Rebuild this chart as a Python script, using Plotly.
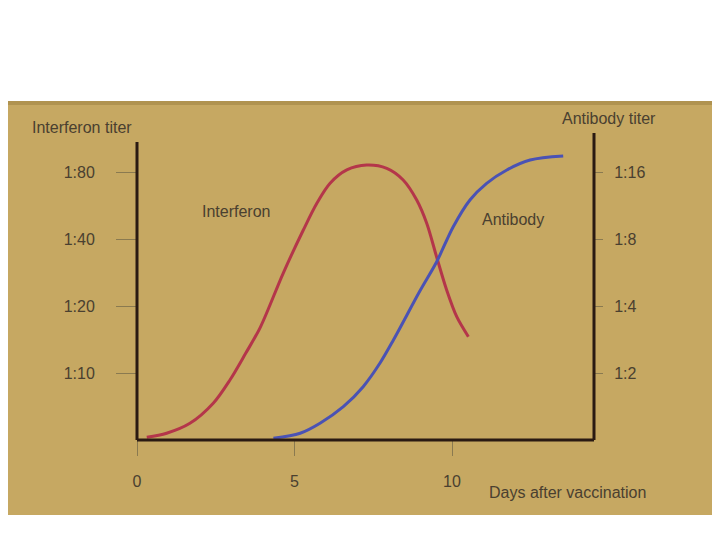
import math
import plotly.graph_objects as go

# ---- data ----
interferon_days = [0.31, 0.94, 1.68, 2.42, 2.95, 3.45, 3.91, 4.64, 5.28, 5.71, 6.13, 6.66,
                   7.29, 7.93, 8.45, 8.88, 9.20, 9.51, 9.83, 10.15, 10.52]
interferon_titer = [5.14, 5.36, 5.94, 7.31, 9.30, 12.26, 16.0, 28.05, 43.9, 57.9, 71.2, 81.7,
                    86.0, 83.1, 73.7, 59.9, 47.0, 33.3, 23.6, 17.9, 14.56]

antibody_days = [4.33, 5.18, 5.81, 6.55, 7.18, 7.71, 8.14, 8.98, 9.51, 10.04, 10.57, 11.10,
                 11.74, 12.48, 13.53]
antibody_titer = [1.018, 1.072, 1.189, 1.411, 1.736, 2.211, 2.814, 4.67, 6.31, 9.087, 11.98,
                  14.23, 16.34, 18.11, 18.88]

x_ticks = [0, 5, 10]
x_tick_labels = ["0", "5", "10"]
left_ticks = [10, 20, 40, 80]
left_tick_labels = ["1:10", "1:20", "1:40", "1:80"]
right_ticks = [2, 4, 8, 16]
right_tick_labels = ["1:2", "1:4", "1:8", "1:16"]

# ---- geometry ----
W, H = 720, 540
OFF = 8                      # page body margin of the html page
REF_L, REF_R, REF_T, REF_B = 137, 594, 137, 440   # plot area as it should appear
PW, PH = REF_R - REF_L, REF_B - REF_T
L, T = REF_L - OFF, REF_T - OFF
R, B = W - L - PW, H - T - PH
doublings = PH / 67.0

def px_x(p):
    return (p - REF_L) / PW

def px_y(p):
    return (REF_B - p) / PH

BG = "#c6a862"
TXT = "#4a4030"
AX = "#2a1a12"
TICK = "#8a7a50"
FONT = "Liberation Sans, Arial, sans-serif"

fig = go.Figure()
fig.add_trace(go.Scatter(x=interferon_days, y=interferon_titer, mode="lines",
                         line=dict(color="#b4364a", width=3, shape="spline", smoothing=0.9),
                         yaxis="y", hoverinfo="skip", showlegend=False))
fig.add_trace(go.Scatter(x=antibody_days, y=antibody_titer, mode="lines",
                         line=dict(color="#4a52b4", width=3, shape="spline", smoothing=0.9),
                         yaxis="y2", hoverinfo="skip", showlegend=False))

shapes = [
    # photo background
    dict(type="rect", xref="paper", yref="paper", x0=px_x(-10), x1=px_x(712), y0=px_y(515), y1=px_y(101),
         fillcolor=BG, line=dict(width=0), layer="below"),
    dict(type="rect", xref="paper", yref="paper", x0=px_x(-10), x1=px_x(712), y0=px_y(105), y1=px_y(101),
         fillcolor="#b09350", line=dict(width=0), layer="below"),
    dict(type="rect", xref="paper", yref="paper", x0=px_x(712), x1=px_x(730), y0=px_y(515), y1=px_y(101),
         fillcolor="#bcaea6", line=dict(width=0), layer="below"),
    # axis lines
    dict(type="line", xref="paper", yref="paper", x0=0, x1=0, y0=0, y1=px_y(142),
         line=dict(color=AX, width=3)),
    dict(type="line", xref="paper", yref="paper", x0=1, x1=1, y0=0, y1=px_y(133),
         line=dict(color=AX, width=3)),
    dict(type="line", xref="paper", yref="paper", x0=0, x1=1, y0=0, y1=0,
         line=dict(color=AX, width=3)),
]

annotations = [
    dict(text="Interferon titer", x=px_x(30), y=px_y(127), xanchor="left", yanchor="middle"),
    dict(text="Antibody titer", x=px_x(560), y=px_y(118), xanchor="left", yanchor="middle"),
    dict(text="Days after vaccination", x=px_x(487), y=px_y(492), xanchor="left", yanchor="middle"),
    dict(text="Interferon", x=px_x(236), y=px_y(211), xanchor="center", yanchor="middle"),
    dict(text="Antibody", x=px_x(513), y=px_y(219), xanchor="center", yanchor="middle"),
]
for a in annotations:
    a.update(xref="paper", yref="paper", showarrow=False, font=dict(family=FONT, size=16, color=TXT))

fig.update_layout(
    width=W, height=H,
    margin=dict(l=L, r=R, t=T, b=B, pad=0),
    paper_bgcolor="white", plot_bgcolor="rgba(0,0,0,0)",
    shapes=shapes, annotations=annotations,
    xaxis=dict(range=[0, PW / 31.5], tickvals=x_ticks, ticktext=x_tick_labels,
               ticks="outside", ticklen=15, tickwidth=1, tickcolor=TICK,
               showgrid=False, zeroline=False, showline=False, automargin=False,
               ticklabelstandoff=12,
               tickfont=dict(family=FONT, size=16, color=TXT)),
    yaxis=dict(type="log", range=[math.log10(5), math.log10(5 * 2 ** doublings)],
               tickvals=left_ticks, ticktext=left_tick_labels,
               ticks="outside", ticklen=20, tickwidth=1, tickcolor=TICK,
               showgrid=False, zeroline=False, showline=False, automargin=False,
               ticklabelstandoff=18,
               tickfont=dict(family=FONT, size=16, color=TXT)),
    yaxis2=dict(type="log", range=[0, math.log10(2 ** doublings)], overlaying="y", side="right",
                tickvals=right_ticks, ticktext=right_tick_labels,
                ticks="outside", ticklen=8, tickwidth=1, tickcolor=TICK,
                showgrid=False, zeroline=False, showline=False, automargin=False,
                ticklabelstandoff=8,
                tickfont=dict(family=FONT, size=16, color=TXT)),
)

fig.write_html("out.html")
